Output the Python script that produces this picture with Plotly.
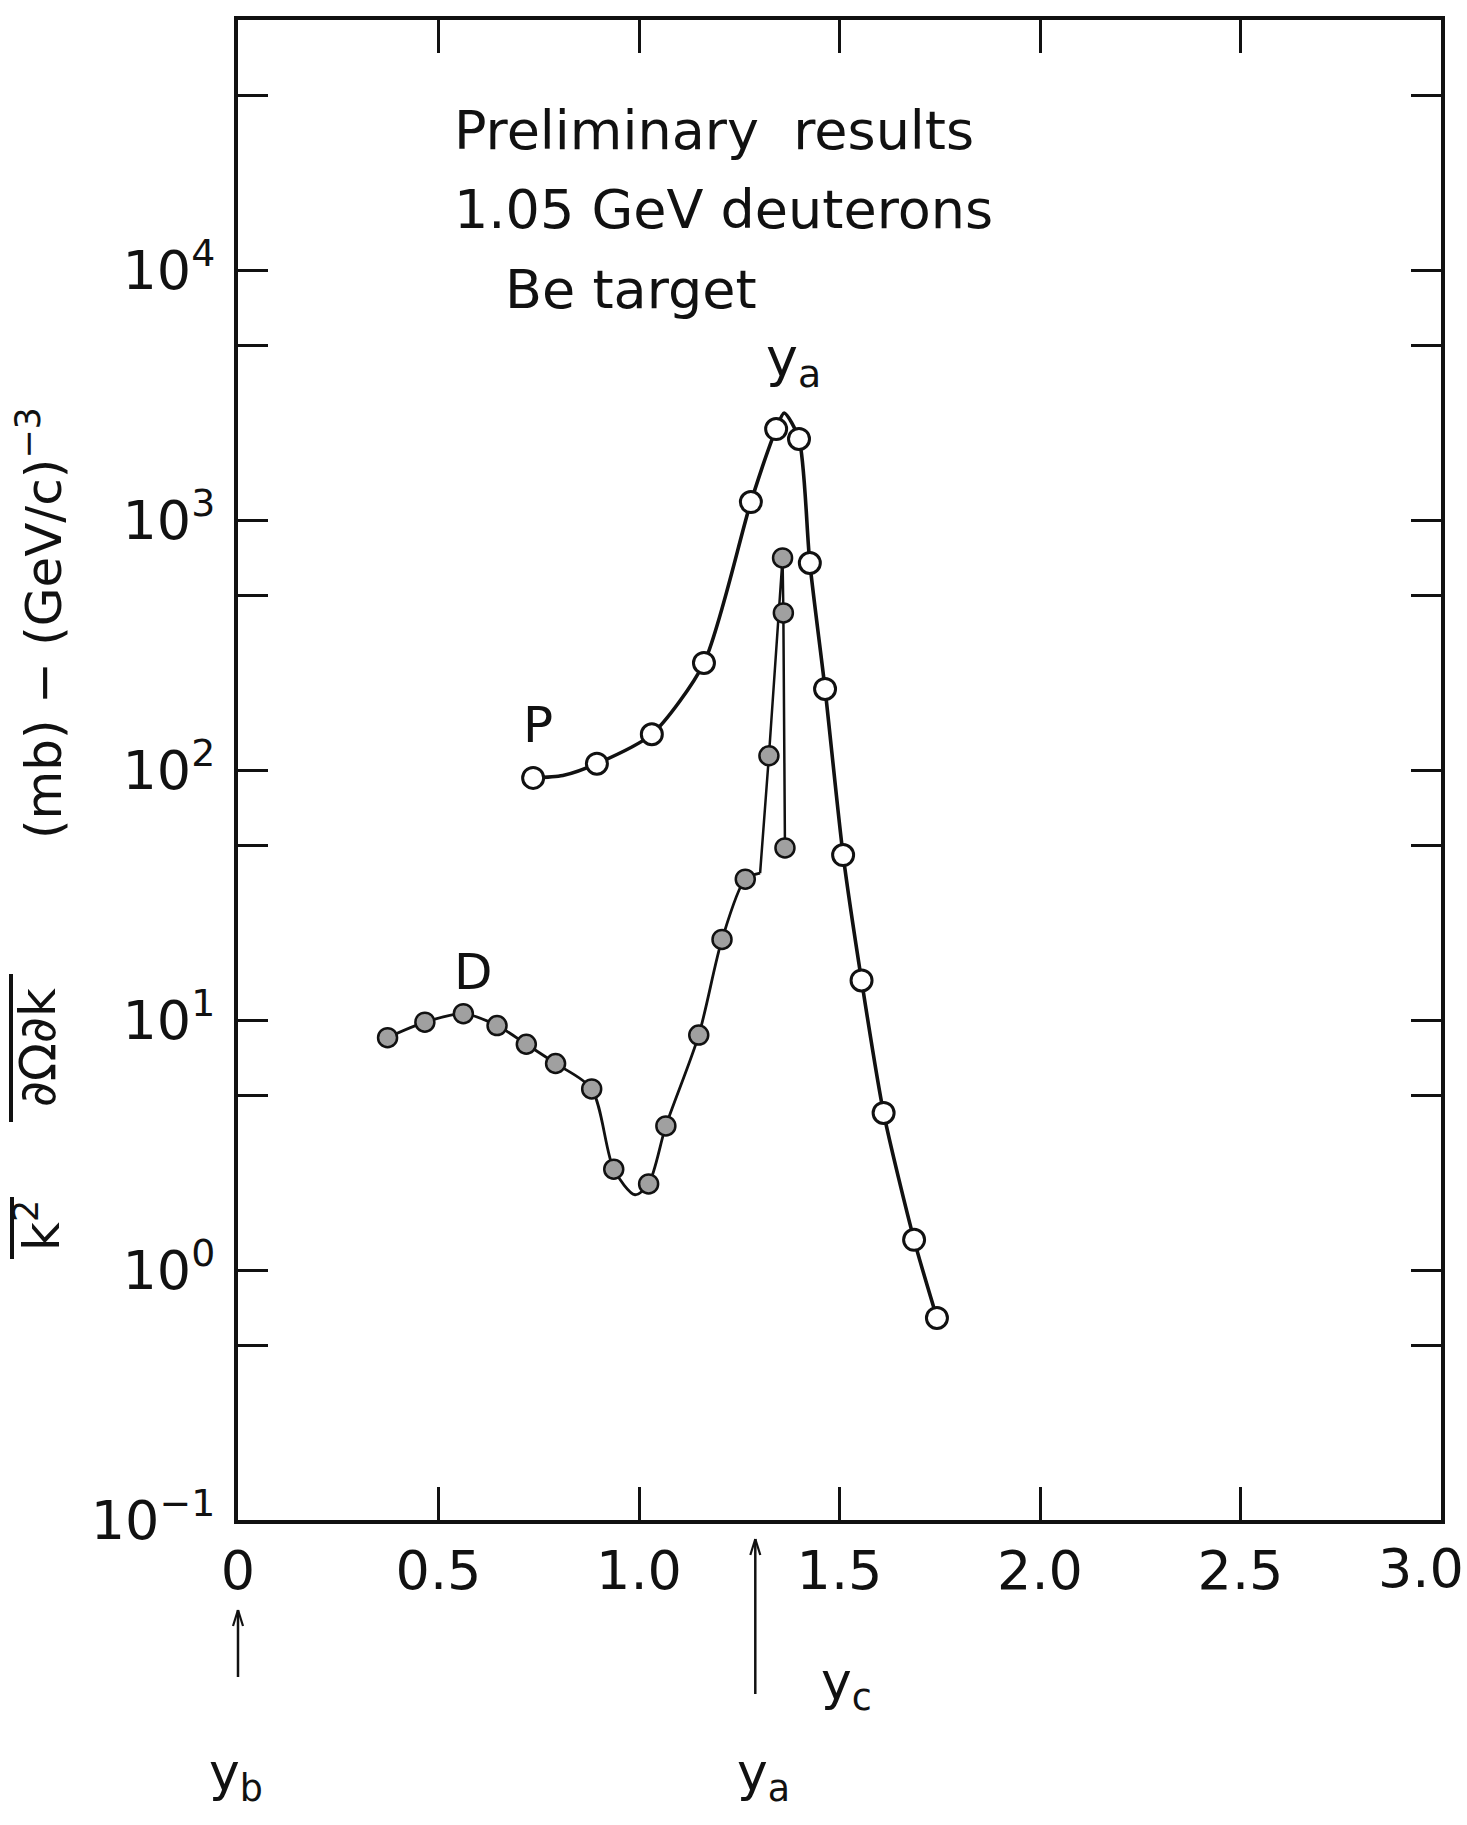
import plotly.graph_objects as go

# ---------------- data ----------------
# Protons (P): measured points (open circles)
p_x = [0.736, 0.895, 1.032, 1.162, 1.279, 1.342, 1.399, 1.426, 1.464, 1.509, 1.555, 1.610, 1.686, 1.743]
p_y = [93, 106, 139, 268, 1180, 2310, 2110, 673, 211, 45.7, 14.4, 4.25, 1.32, 0.643]
# hand-drawn curve through the proton points (passes the apex)
p_curve_x = [0.736, 0.81, 0.895, 1.032, 1.162, 1.279, 1.342, 1.362, 1.399, 1.426, 1.464, 1.509, 1.555, 1.610, 1.686, 1.743]
p_curve_y = [93, 95, 106, 139, 268, 1180, 2310, 2680, 2110, 673, 211, 45.7, 14.4, 4.25, 1.32, 0.643]

# Deuterons (D): measured points (stippled circles)
d_x = [0.373, 0.466, 0.562, 0.646, 0.719, 0.792, 0.882, 0.937, 1.024, 1.067, 1.149, 1.207, 1.265, 1.324, 1.358, 1.360, 1.364]
d_y = [8.5, 9.8, 10.6, 9.5, 8.0, 6.7, 5.3, 2.53, 2.21, 3.77, 8.7, 21, 36.6, 114, 705, 425, 48.8]
# hand-drawn curve through the deuteron points
d_curve_x = [0.373, 0.466, 0.562, 0.646, 0.719, 0.792, 0.882, 0.937, 0.99, 1.024, 1.067, 1.149, 1.207, 1.265, 1.302]
d_curve_y = [8.5, 9.8, 10.6, 9.5, 8.0, 6.7, 5.3, 2.53, 2.0, 2.21, 3.77, 8.7, 21, 36.6, 38.7]
d_spike_x = [1.302, 1.324, 1.358, 1.360, 1.364]
d_spike_y = [38.7, 114, 705, 425, 48.8]

# axes
x_tickvals = [0, 0.5, 1.0, 1.5, 2.0, 2.5]
x_ticktext = ["0", "0.5", "1.0", "1.5", "2.0", "2.5"]
x_last_label = "3.0"
y_tickvals = [0.1, 1, 10, 100, 1000, 10000]
y_ticktext = ["10<sup>−1</sup>", "10<sup>0</sup>", "10<sup>1</sup>",
              "10<sup>2</sup>", "10<sup>3</sup>", "10<sup>4</sup>"]
y_minor_tickvals = [0.5, 5, 50, 500, 5000, 50000]

# rapidity markers below the axis
y_b = 0.0
y_a = 1.29

# ---------------- figure ----------------
W, H = 1467, 1825
L, R, T, B = 238, 26, 20, 305
PW, PH = W - L - R, H - T - B
INK = "#111111"
FONT = "DejaVu Sans"


def px(xf):
    return (xf - L) / PW


def py(yf):
    return (H - B - yf) / PH


fig = go.Figure()

fig.add_trace(go.Scatter(x=p_curve_x, y=p_curve_y, mode="lines",
                         line=dict(color=INK, width=3.6, shape="spline", smoothing=0.7),
                         hoverinfo="skip", showlegend=False))
fig.add_trace(go.Scatter(x=d_curve_x, y=d_curve_y, mode="lines",
                         line=dict(color=INK, width=2.8, shape="spline", smoothing=0.8),
                         hoverinfo="skip", showlegend=False))
fig.add_trace(go.Scatter(x=d_spike_x, y=d_spike_y, mode="lines",
                         line=dict(color=INK, width=2.5),
                         hoverinfo="skip", showlegend=False))
fig.add_trace(go.Scatter(x=p_x, y=p_y, mode="markers", name="P",
                         marker=dict(symbol="circle", size=21, color="white",
                                     line=dict(color=INK, width=3)),
                         showlegend=False))
fig.add_trace(go.Scatter(x=d_x, y=d_y, mode="markers", name="D",
                         marker=dict(symbol="circle", size=19, color="#a0a0a0",
                                     line=dict(color=INK, width=2.5)),
                         showlegend=False))

ann = []


def text(x, y, s, size, xanchor="center", angle=0):
    ann.append(dict(x=x, y=y, xref="paper", yref="paper", text=s, showarrow=False,
                    xanchor=xanchor, yanchor="middle", textangle=angle,
                    font=dict(family=FONT, size=size, color=INK)))


text(px(452), py(130), "Preliminary  results", 54, "left")
text(px(452), py(209), "1.05 GeV deuterons", 54, "left")
text(px(503), py(289), "Be target", 54, "left")
text(px(793), py(361), "y<sub>a</sub>", 54)
text(px(538), py(725), "P", 50)
text(px(473), py(972), "D", 50)

# y-axis label pieces (left part cut by the page edge in the original)
text(px(38), py(1226), "k<sup>2</sup>", 50, angle=-90)
text(px(38), py(1048), "∂Ω∂k", 50, angle=-90)
text(px(40), py(623), "(mb) − (GeV/c)<sup>−3</sup>", 50, angle=-90)

# last x tick label (kept inside the page)
text(px(1466), py(1568), x_last_label, 54, "right")

# labels below the axis
text(px(846), py(1685), "y<sub>c</sub>", 52)
text(px(236), py(1776), "y<sub>b</sub>", 52)
text(px(763), py(1776), "y<sub>a</sub>", 52)

shapes = [
    dict(type="line", xref="paper", yref="paper", x0=px(12), x1=px(12), y0=py(1259), y1=py(1197),
         line=dict(color=INK, width=4)),
    dict(type="line", xref="paper", yref="paper", x0=px(11), x1=px(11), y0=py(1122), y1=py(974),
         line=dict(color=INK, width=4)),
]

# arrows drawn as shapes: shaft + open chevron head
for xv, tip, tail in [(y_b, 1610, 1677), (y_a, 1539, 1694)]:
    xp = xv / 3.0
    shapes.append(dict(type="line", xref="paper", yref="paper", x0=xp, x1=xp, y0=py(tail), y1=py(tip),
                       line=dict(color=INK, width=2.5)))
    for s in (-1, 1):
        shapes.append(dict(type="line", xref="paper", yref="paper", x0=xp, x1=xp + s * 5 / PW,
                           y0=py(tip), y1=py(tip + 16), line=dict(color=INK, width=2.2)))

fig.update_layout(
    width=W, height=H, autosize=False,
    margin=dict(l=L, r=R, t=T, b=B, pad=0),
    paper_bgcolor="white", plot_bgcolor="white",
    font=dict(family=FONT, color=INK),
    annotations=ann, shapes=shapes, showlegend=False,
    xaxis=dict(range=[0, 3], tickmode="array", tickvals=x_tickvals, ticktext=x_ticktext,
               ticks="inside", ticklen=33, tickwidth=3, tickcolor=INK,
               showline=True, linewidth=4, linecolor=INK, mirror="ticks",
               showgrid=False, zeroline=False, ticklabelstandoff=0,
               tickfont=dict(family=FONT, size=54, color=INK)),
    yaxis=dict(type="log", range=[-1, 5], tickmode="array", tickvals=y_tickvals, ticktext=y_ticktext,
               ticks="inside", ticklen=30, tickwidth=3, tickcolor=INK,
               minor=dict(tickmode="array", tickvals=y_minor_tickvals, ticks="inside",
                          ticklen=30, tickwidth=3, tickcolor=INK, showgrid=False),
               showline=True, linewidth=4, linecolor=INK, mirror="ticks",
               showgrid=False, zeroline=False, ticklabelstandoff=8,
               tickfont=dict(family=FONT, size=54, color=INK)),
)

fig.write_html("out.html")
